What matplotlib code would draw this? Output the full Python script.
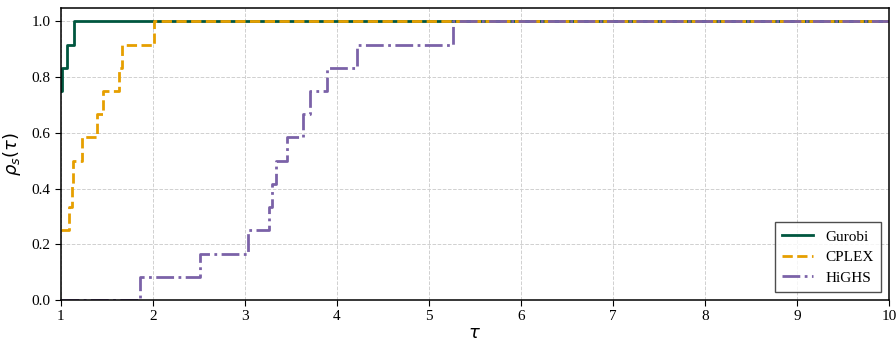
import numpy as np
import matplotlib.pyplot as plt

plt.rcParams['font.family'] = ['Liberation Serif', 'DejaVu Serif']
plt.rcParams['mathtext.fontset'] = 'dejavusans'

# performance ratios per instance (12 instances)
solvers = ['Gurobi', 'CPLEX', 'HiGHS']
gurobi_ratios = [1, 1, 1, 1, 1, 1, 1, 1, 1, 1.01, 1.07, 1.14]
cplex_ratios = [1, 1, 1, 1.09, 1.116, 1.134, 1.232, 1.388, 1.46, 1.63, 1.66, 2.01]
highs_ratios = [1.86, 2.51, 3.03, 3.26, 3.29, 3.34, 3.46, 3.63, 3.71, 3.89, 4.22, 5.26]

colors = ['#00563f', '#e69f00', '#7b62a8']
styles = ['-', '--', '-.']

tau_max = 10

fig, ax = plt.subplots(figsize=(8.96, 3.42), dpi=100)
fig.subplots_adjust(left=0.068, right=0.992, top=0.978, bottom=0.123)

for name, ratios, c, ls in zip(solvers, [gurobi_ratios, cplex_ratios, highs_ratios], colors, styles):
    r = np.sort(np.array(ratios, dtype=float))
    n = len(r)
    taus = np.concatenate([[1.0], r, [tau_max]])
    rho = np.concatenate([[np.sum(r <= 1.0) / n], [np.sum(r <= t) / n for t in r], [1.0]])
    ax.step(taus, rho, where='post', color=c, linestyle=ls, linewidth=2, label=name)

ax.set_xlim(1, 10)
ax.set_ylim(0, 1.05)
ax.set_xticks(range(1, 11))
ax.set_yticks(np.arange(0, 1.01, 0.2))
ax.set_yticklabels(['%.1f' % v for v in np.arange(0, 1.01, 0.2)])
ax.tick_params(labelsize=11, length=4)
ax.set_xlabel(r'$\tau$', fontsize=13, labelpad=1)
ax.set_ylabel(r'$\rho_s(\tau)$', fontsize=13, labelpad=6)
ax.grid(True, linestyle='--', color='#d0d0d0', linewidth=0.7)
for s in ax.spines.values():
    s.set_linewidth(1.1)

leg = ax.legend(loc='lower right', fontsize=11, fancybox=False, edgecolor='#222222',
                handlelength=2.0, borderpad=0.5, labelspacing=0.45, borderaxespad=0.5)
leg.get_frame().set_linewidth(1.0)

plt.savefig('out.png', dpi=100)
